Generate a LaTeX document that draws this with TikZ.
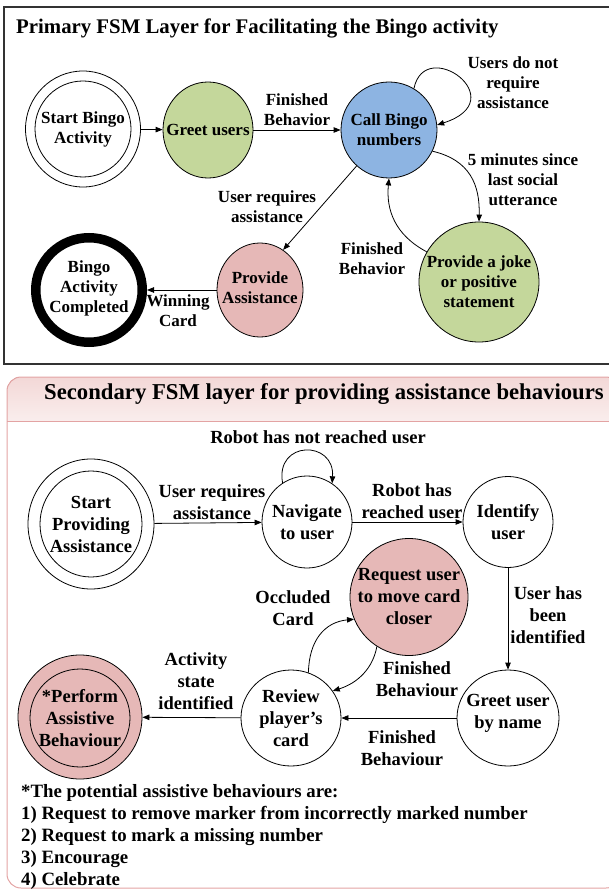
\documentclass[tikz,border=0pt]{standalone}
\usepackage{fontspec}
\setmainfont{Liberation Serif}
\usetikzlibrary{shapes.geometric,arrows.meta}
\definecolor{gfill}{HTML}{C4D79B}
\definecolor{bfill}{HTML}{8DB4E2}
\definecolor{pfill}{HTML}{E6B8B7}
\definecolor{pborder}{HTML}{E3A3A3}
\definecolor{phead}{HTML}{F3D8D7}
\newcommand{\fTop}{\fontsize{17}{20}\selectfont\bfseries}
\newcommand{\fBot}{\fontsize{18.5}{22}\selectfont\bfseries}
\newcommand{\fTitleA}{\fontsize{20.8}{24}\selectfont\bfseries}
\newcommand{\fTitleB}{\fontsize{22.7}{26}\selectfont\bfseries}
\newcommand{\fNote}{\fontsize{18.8}{22}\selectfont\bfseries}
\begin{document}
\begin{tikzpicture}[x=1pt,y=1pt,
  st/.style={ellipse, draw, line width=0.8pt, inner sep=0pt},
  lt/.style={font=\fTop, align=center, inner sep=0pt},
  lb/.style={font=\fBot, align=center, inner sep=0pt},
  el/.style={font=\fTop, align=center, inner sep=0pt},
  eb/.style={font=\fBot, align=center, inner sep=0pt},
  arr/.style={-{Triangle[length=7pt,width=5.5pt]}, line width=0.8pt}]
\path[use as bounding box] (0,0) rectangle (609,-890);

% ---------- top panel ----------
\draw[line width=1.5pt, black!80] (4,-7) rectangle (614,-364);
\node[anchor=base west, inner sep=0pt, font=\fTitleA] (titleA) at (16,-33.5)
  {Primary FSM Layer for Facilitating the Bingo activity};

\node[st, minimum width=115pt, minimum height=116pt] (startO) at (83,-129) {};
\node[st, minimum width=96pt, minimum height=96pt,
  label={[lt]center:Start Bingo\\Activity}] (startI) at (83,-129) {};
\node[st, fill=gfill, minimum width=90pt, minimum height=96pt,
  label={[lt]center:Greet users}] (greet) at (208,-130) {};
\node[st, fill=bfill, minimum width=96pt, minimum height=96pt,
  label={[lt]center:Call Bingo\\numbers}] (call) at (389,-130) {};
\node[st, fill=gfill, minimum width=120pt, minimum height=120pt,
  label={[lt]center:Provide a joke\\or positive\\statement}] (joke) at (479,-282) {};
\node[st, fill=pfill, minimum width=86pt, minimum height=94pt,
  label={[lt,yshift=2pt]center:Provide\\Assistance}] (assist) at (260,-290) {};
\node[st, line width=9.5pt, minimum width=106.5pt, minimum height=104.5pt,
  label={[lt,yshift=2pt]center:Bingo\\Activity\\Completed}] (done) at (89,-290) {};

\draw[arr] (startO) -- (greet);
\draw[arr] (greet) -- (call);
\draw[arr] (call.59) .. controls (425,-35) and (515,-100) .. (call.6);
\draw[arr] (call.-26) .. controls (470,-160) and (480,-185) .. (joke.north);
\draw[arr] (joke.150) .. controls (395,-235) and (386,-210) .. (call.south);
\draw[arr] (call.228) -- (assist.60);
\draw[arr] (assist) -- (done);

\node[el] (lFinA) at (297,-110) {Finished\\Behavior};
\node[el] (lNoReq) at (513,-83) {Users do not\\require\\assistance};
\node[el] (lFive) at (523,-180) {5 minutes since\\last social\\utterance};
\node[el] (lFinB) at (372,-259) {Finished\\Behavior};
\node[el] (lUserReq) at (267,-207) {User requires\\assistance};
\node[el] (lWin) at (178,-311) {Winning\\Card};

% ---------- bottom panel ----------
\fill[top color=phead, bottom color=phead!45!white]
  (7,-421) {[rounded corners=14pt] -- (7,-377) -- (620,-377)} -- (620,-421) -- cycle;
\draw[pborder, line width=1pt, rounded corners=14pt] (7,-377) rectangle (620,-888);
\draw[pborder, line width=1pt] (7,-421) -- (620,-421);
\node[anchor=base west, inner sep=0pt, font=\fTitleB] (titleB) at (44,-399)
  {Secondary FSM layer for providing assistance behaviours};

\node[st, minimum width=126pt, minimum height=130pt] (spaO) at (91,-524) {};
\node[st, minimum width=102pt, minimum height=106pt,
  label={[lb]center:Start\\Providing\\Assistance}] (spaI) at (91,-524) {};
\node[st, minimum width=90pt, minimum height=92pt,
  label={[lb]center:Navigate\\to user}] (nav) at (307,-522) {};
\node[st, minimum width=90pt, minimum height=91pt,
  label={[lb]center:Identify\\user}] (ident) at (508,-522) {};
\node[st, fill=pfill, minimum width=118pt, minimum height=117pt,
  label={[lb]center:Request user\\to move card\\closer}] (req) at (409,-597) {};
\node[st, minimum width=100pt, minimum height=96pt,
  label={[lb]center:Review\\player’s\\card}] (review) at (291,-718) {};
\node[st, minimum width=102pt, minimum height=96pt,
  label={[lb,yshift=5pt]center:Greet user\\by name}] (greetn) at (508,-718) {};
\node[st, fill=pfill, minimum width=124pt, minimum height=124pt] (perfO) at (80,-717) {};
\node[st, minimum width=100pt, minimum height=98pt,
  label={[lb]center:*Perform\\Assistive\\Behaviour}] (perfI) at (80,-718) {};

\draw[arr] (spaO) -- (nav);
\draw[arr] (nav.122) .. controls (275,-440) and (335,-440) .. (nav.57);
\draw[arr] (nav) -- (ident);
\draw[arr] (ident) -- (greetn);
\draw[arr] (greetn) -- (review);
\draw[arr] (review) -- (perfO);
\draw[arr] (review.69) .. controls (309,-640) and (325,-622) .. (req.202);
\draw[arr] (req.237) .. controls (373,-668) and (358,-683) .. (review.33);

\node[eb] (lUR) at (212,-502) {User requires\\assistance};
\node[eb] (lNR) at (318,-437) {Robot has not reached user};
\node[eb] (lRR) at (412,-501) {Robot has\\reached user};
\node[eb] (lID) at (548,-615) {User has\\been\\identified};
\node[eb] (lOC) at (293,-608) {Occluded\\Card};
\node[eb] (lFB1) at (417,-679) {Finished\\Behaviour};
\node[eb] (lFB2) at (402,-748) {Finished\\Behaviour};
\node[eb] (lAS) at (196,-681) {Activity\\state\\identified};

\node[anchor=west, align=left, inner sep=0pt, font=\fNote] (note) at (21,-837)
  {*The potential assistive behaviours are:\\
   1) Request to remove marker from incorrectly marked number\\
   2) Request to mark a missing number\\
   3) Encourage\\
   4) Celebrate};
\end{tikzpicture}
\end{document}
